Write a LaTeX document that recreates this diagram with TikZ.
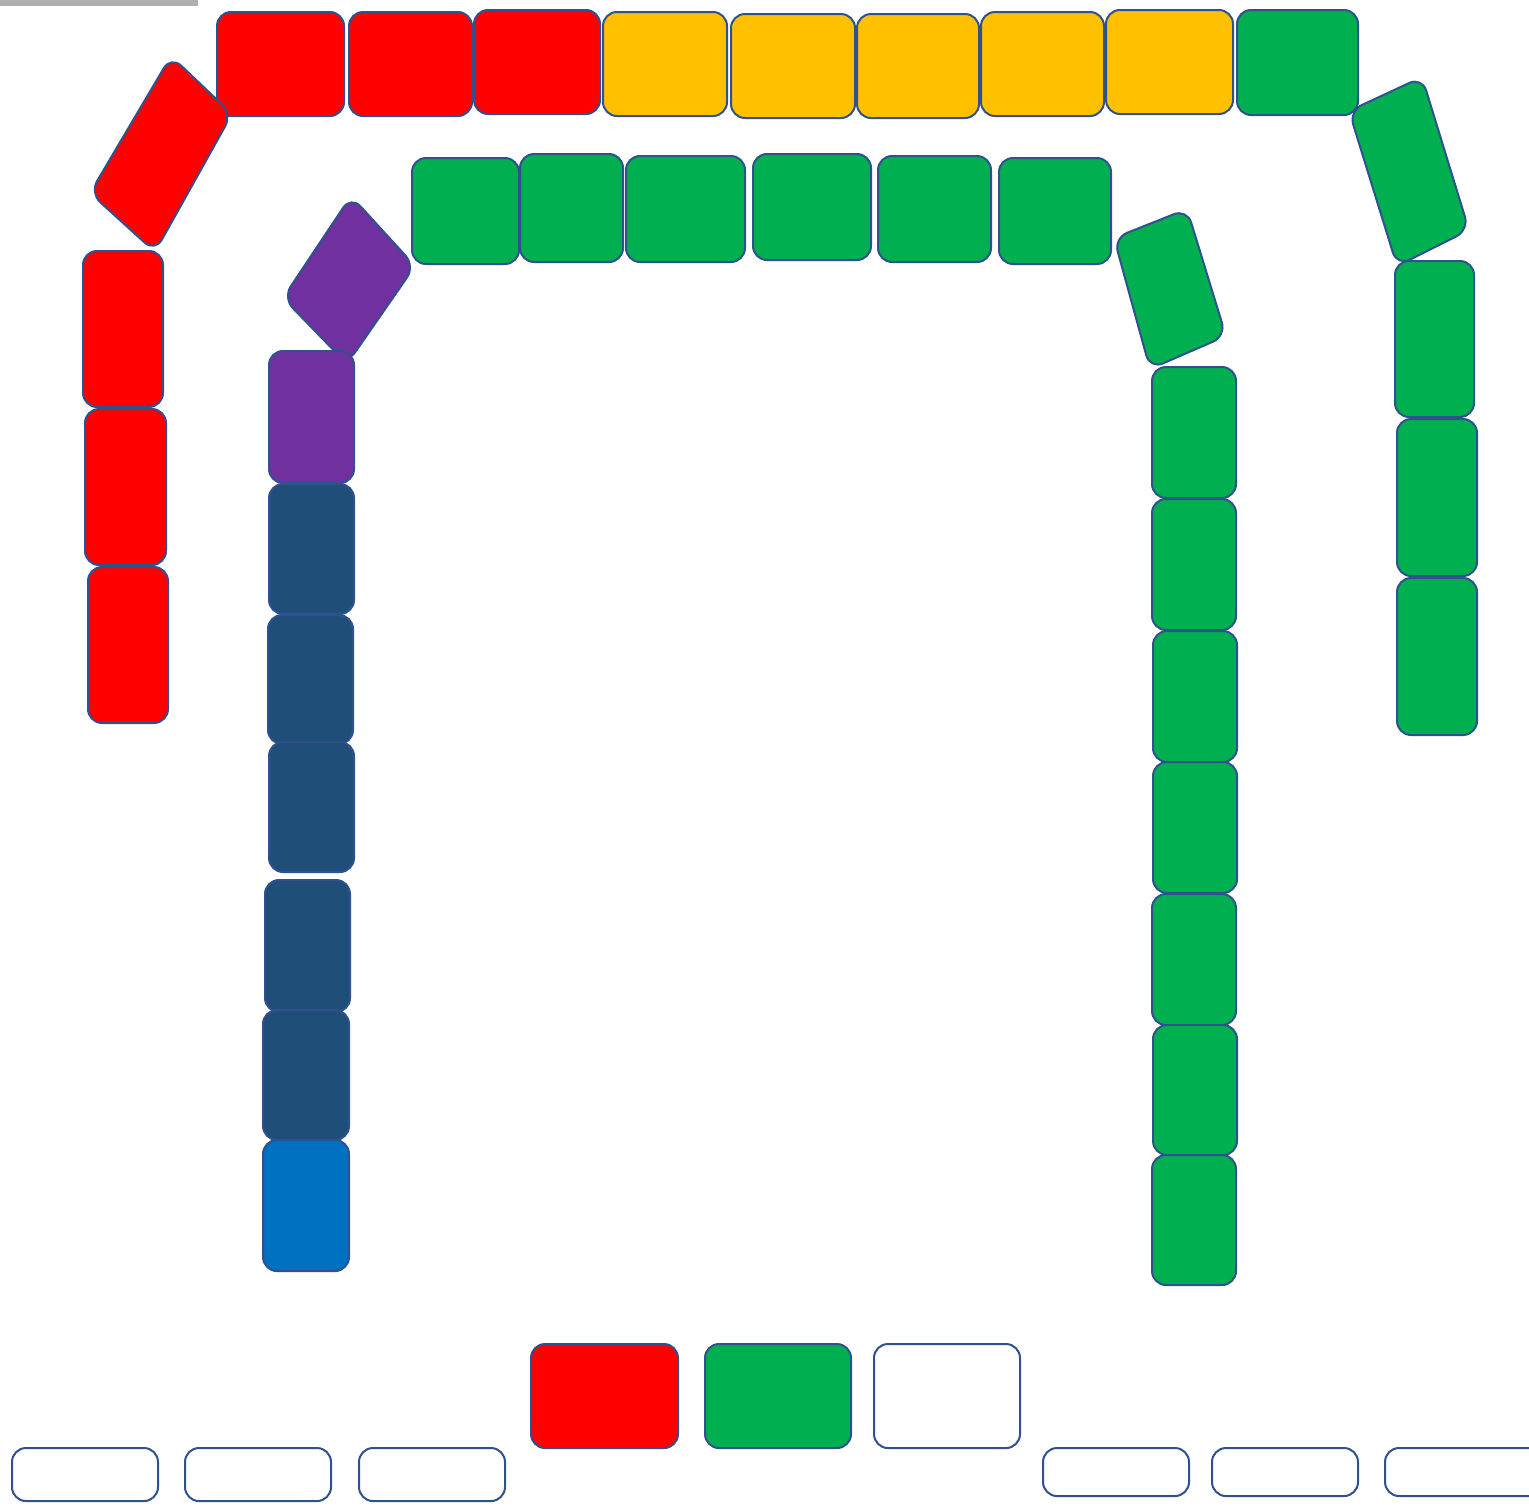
\documentclass[tikz,border=0pt]{standalone}
\usetikzlibrary{positioning}
\definecolor{cred}{HTML}{FF0000}
\definecolor{cyel}{HTML}{FFC000}
\definecolor{cgrn}{HTML}{00B050}
\definecolor{cpur}{HTML}{7030A0}
\definecolor{cnavy}{HTML}{1F4E79}
\definecolor{cblue}{HTML}{0070C0}
\definecolor{cedge}{HTML}{2F528F}
\definecolor{cgray}{HTML}{AFAFAF}
\tikzset{
  tile/.style={draw=cedge, line width=1pt, rounded corners=7pt, inner sep=0pt, outer sep=0pt},
}
\newcommand\bxA[6]{\node[tile,fill=#2,minimum width={(#5-#3)*0.5pt},minimum height={(#6-#4)*0.5pt}] (#1) at ({(#3+#5)/2},{(#4+#6)/2}) {};}
\begin{document}
\begin{tikzpicture}[x=0.5pt,y=-0.5pt]
\useasboundingbox (0,0) rectangle (1529,1511);
\clip (0,0) rectangle (1529,1511);
\fill[white] (0,0) rectangle (1529,1511);
\fill[cgray] (0,0) rectangle (198,6);
% top row
\bxA{t1}{cred}{217}{12}{344}{116}
\bxA{t2}{cred}{349}{12}{472}{116}
\bxA{t3}{cred}{474}{10}{600}{114}
\bxA{t4}{cyel}{603}{12}{727}{116}
\bxA{t5}{cyel}{731}{14}{855}{118}
\bxA{t6}{cyel}{857}{14}{979}{118}
\bxA{t7}{cyel}{981}{12}{1104}{116}
\bxA{t8}{cyel}{1106}{10}{1233}{114}
\bxA{t9}{cgrn}{1237}{10}{1358}{115}
% tilted red
\draw[tile,fill=cred] (171,56) -- (232,114) -- (155,252) -- (90,193) -- cycle;
% left red column
\bxA{l1}{cred}{83}{251}{163}{407}
\bxA{l2}{cred}{85}{409}{166}{565}
\bxA{l3}{cred}{88}{567}{168}{723}
% purple
\draw[tile,fill=cpur] (351,196) -- (415,266) -- (347,364) -- (283,298) -- cycle;
\bxA{p1}{cpur}{269}{351}{354}{483}
% navy column
\bxA{n1}{cnavy}{269}{484}{354}{614}
\bxA{n2}{cnavy}{268}{615}{353}{744}
\bxA{n3}{cnavy}{269}{742}{354}{872}
\bxA{n4}{cnavy}{265}{880}{350}{1012}
\bxA{n5}{cnavy}{263}{1010}{349}{1140}
\bxA{b1}{cblue}{263}{1140}{349}{1271}
% inner top green row
\bxA{g1}{cgrn}{412}{158}{519}{264}
\bxA{g2}{cgrn}{520}{154}{623}{262}
\bxA{g3}{cgrn}{626}{156}{745}{262}
\bxA{g4}{cgrn}{753}{154}{871}{260}
\bxA{g5}{cgrn}{878}{156}{991}{262}
\bxA{g6}{cgrn}{999}{158}{1111}{264}
% inner tilted green
\draw[tile,fill=cgrn] (1114,238) -- (1187,209) -- (1226,336) -- (1150,369) -- cycle;
% inner right column
\bxA{c1}{cgrn}{1152}{367}{1236}{498}
\bxA{c2}{cgrn}{1152}{499}{1236}{630}
\bxA{c3}{cgrn}{1153}{631}{1237}{762}
\bxA{c4}{cgrn}{1153}{762}{1237}{893}
\bxA{c5}{cgrn}{1152}{894}{1236}{1025}
\bxA{c6}{cgrn}{1153}{1025}{1237}{1155}
\bxA{c7}{cgrn}{1152}{1155}{1236}{1285}
% outer tilted green
\draw[tile,fill=cgrn] (1349,111) -- (1422,77) -- (1469,230) -- (1397,266) -- cycle;
% outer right column
\bxA{o1}{cgrn}{1395}{261}{1474}{417}
\bxA{o2}{cgrn}{1397}{419}{1477}{576}
\bxA{o3}{cgrn}{1397}{578}{1477}{735}
% bottom
\bxA{k1}{cred}{531}{1344}{678}{1448}
\bxA{k2}{cgrn}{705}{1344}{851}{1448}
\bxA{k3}{white}{874}{1344}{1020}{1448}
\bxA{w1}{white}{12}{1448}{158}{1501}
\bxA{w2}{white}{185}{1448}{331}{1501}
\bxA{w3}{white}{359}{1448}{505}{1501}
\bxA{w4}{white}{1043}{1448}{1189}{1496}
\bxA{w5}{white}{1212}{1448}{1358}{1496}
\bxA{w6}{white}{1385}{1448}{1545}{1496}
\end{tikzpicture}
\end{document}
